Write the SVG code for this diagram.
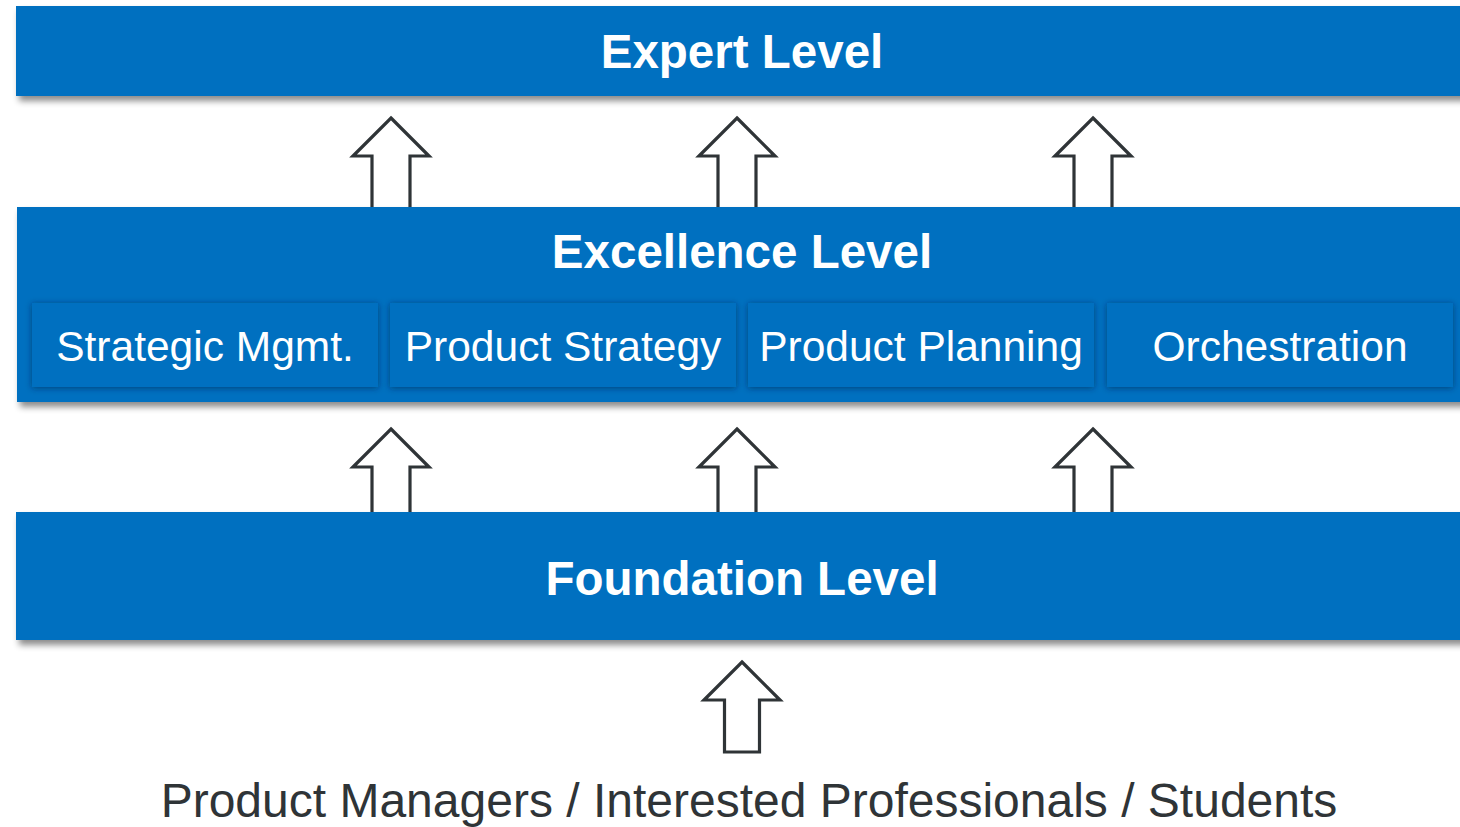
<svg xmlns="http://www.w3.org/2000/svg" width="1460" height="827" viewBox="0 0 1460 827">
  <defs>
    <filter id="barShadow" x="-5%" y="-20%" width="110%" height="150%">
      <feDropShadow dx="3" dy="5" stdDeviation="3" flood-color="#000" flood-opacity="0.45"/>
    </filter>
    <filter id="boxShadow" x="-5%" y="-20%" width="110%" height="140%">
      <feDropShadow dx="0" dy="1" stdDeviation="3" flood-color="#00213d" flood-opacity="0.55"/>
    </filter>
  </defs>
  <style>
    .bar { fill: #0070C0; filter: url(#barShadow); }
    .box { fill: #0070C0; filter: url(#boxShadow); }
    .title { font-family: "Liberation Sans", Arial, sans-serif; font-weight: bold; font-size: 47.5px; fill: #ffffff; text-anchor: middle; }
    .sub { font-family: "Liberation Sans", Arial, sans-serif; font-size: 42.5px; fill: #ffffff; text-anchor: middle; }
    .foot { font-family: "Liberation Sans", Arial, sans-serif; font-size: 48px; fill: #2f3437; text-anchor: middle; }
    .arrow { fill: #ffffff; stroke: #2f3437; stroke-width: 3.2; stroke-linejoin: miter; }
  </style>
  <rect width="1460" height="827" fill="#ffffff"/>

  <g id="connectors">
    <path class="arrow" d="M391,118 L429,156 L410,156 L410,212 L372,212 L372,156 L353,156 Z"/>
    <path class="arrow" d="M737,118 L775,156 L756,156 L756,212 L718,212 L718,156 L699,156 Z"/>
    <path class="arrow" d="M1093,118 L1131,156 L1112,156 L1112,212 L1074,212 L1074,156 L1055,156 Z"/>
    <path class="arrow" d="M391,429 L429,467 L410,467 L410,517 L372,517 L372,467 L353,467 Z"/>
    <path class="arrow" d="M737,429 L775,467 L756,467 L756,517 L718,517 L718,467 L699,467 Z"/>
    <path class="arrow" d="M1093,429 L1131,467 L1112,467 L1112,517 L1074,517 L1074,467 L1055,467 Z"/>
    <path class="arrow" d="M742,662 L780,700 L759.5,700 L759.5,752 L724.5,752 L724.5,700 L704,700 Z"/>
  </g>

  <g id="expert">
    <rect class="bar" x="16" y="6" width="1450" height="90"/>
    <text class="title" x="742" y="68">Expert Level</text>
  </g>

  <g id="excellence">
    <rect class="bar" x="17" y="207" width="1450" height="195"/>
    <text class="title" x="742" y="268">Excellence Level</text>
  </g>

  <g id="strategic-mgmt">
    <rect class="box" x="32" y="303" width="346" height="84"/>
    <text class="sub" x="205" y="361">Strategic Mgmt.</text>
  </g>
  <g id="product-strategy">
    <rect class="box" x="390" y="303" width="346" height="84"/>
    <text class="sub" x="563" y="361">Product Strategy</text>
  </g>
  <g id="product-planning">
    <rect class="box" x="748" y="303" width="346" height="84"/>
    <text class="sub" x="921" y="361">Product Planning</text>
  </g>
  <g id="orchestration">
    <rect class="box" x="1107" y="303" width="346" height="84"/>
    <text class="sub" x="1280" y="361">Orchestration</text>
  </g>

  <g id="foundation">
    <rect class="bar" x="16" y="512" width="1450" height="128"/>
    <text class="title" x="742" y="595">Foundation Level</text>
  </g>

  <g id="audience">
    <text class="foot" x="749" y="817">Product Managers / Interested Professionals / Students</text>
  </g>
</svg>
